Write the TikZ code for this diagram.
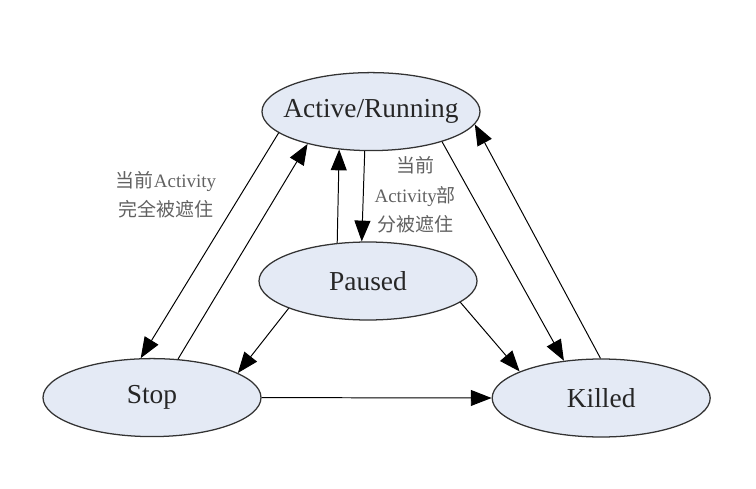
\documentclass[tikz,border=0pt]{standalone}
\usepackage{fontspec}
\setmainfont{Liberation Serif}
\newfontfamily\cjk{Noto Sans CJK SC}
\usetikzlibrary{shapes.geometric,arrows.meta}
\definecolor{statefill}{RGB}{228,234,245}

\begin{document}
\begin{tikzpicture}

	%\draw[help lines] (0,0) grid (19,12);
	\useasboundingbox (0,0) rectangle (18.9,12.2);

	\tikzset{state/.style={draw=black!80,ellipse,line width=0.9pt,fill=statefill,minimum width=5.45cm,minimum height=1.95cm,inner xsep=-0.4cm,inner ysep=0pt,text=black!85,font=\fontsize{19.5}{22}\selectfont}}
	\tikzset{trans/.style={line width=0.7pt,-{Triangle[length=0.52cm,width=0.4cm]}}}
	\tikzset{note/.style={align=center,text=black!62,font=\fontsize{13.5}{21}\selectfont}}

	% states

	\node[state] (act) at (9.275,9.41) {Active/Running};
	\node[state] (pau) at (9.2,5.175) {Paused};
	\node[state] (stp) at (3.8,2.26) {Stop};
	\node[state] (kil) at (15.03,2.25) {Killed};

	% transitions

	\draw[trans] (act.193) -- (stp.106);
	\draw[trans] (stp.56) -- (act.207);

	\draw[trans] (pau.129) -- (act.230);
	\draw[trans] (act.261) -- (pau.99);

	\draw[trans] (pau.199) -- (stp.16);
	\draw[trans] (pau.347) -- (kil.162);

	\draw[trans] (act.337) -- (kil.135);
	\draw[trans] (kil.91) -- (act.353);

	\draw[trans] (stp.east) -- (kil.west);

	% notes

	\node[note] (n1) at (4.15,7.33) {{\cjk 当前}Activity\\{\cjk 完全被遮住}};
	\node[note] (n2) at (10.38,7.33) {{\cjk 当前}\\Activity{\cjk 部}\\{\cjk 分被遮住}};

\end{tikzpicture}
\end{document}
